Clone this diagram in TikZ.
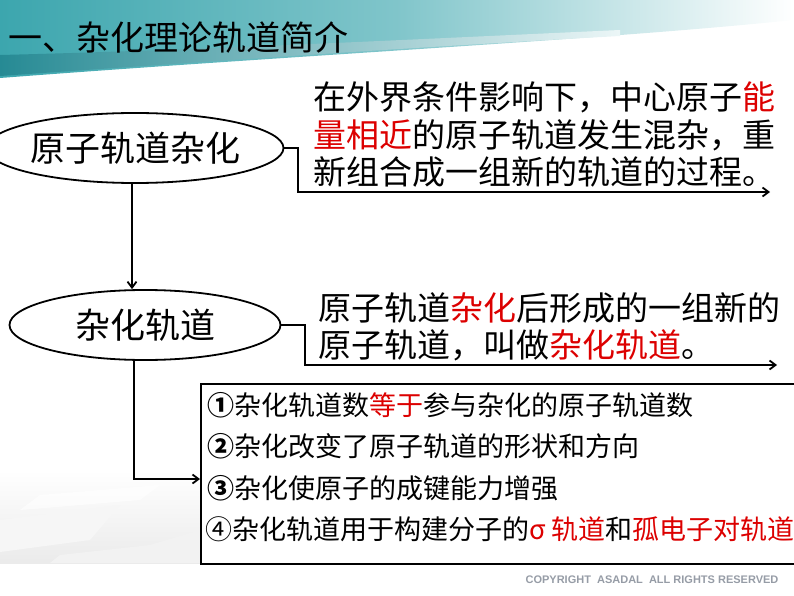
\documentclass[tikz,border=0pt]{standalone}
\usepackage{fontspec}
\setmainfont{Liberation Sans}
\newfontfamily\cjk{Noto Sans CJK SC}
\usetikzlibrary{arrows.meta,shapes.geometric}
\definecolor{hl}{RGB}{220,0,0}
\definecolor{tealA}{RGB}{60,166,174}
\definecolor{tealB}{RGB}{38,138,148}
\definecolor{cpy}{RGB}{150,156,166}
\begin{document}
\begin{tikzpicture}[x=1pt,y=-1pt,
  conn/.style={line width=1.8pt},
  arr/.style={line width=1.8pt,-{Straight Barb[length=6pt,width=9pt]}},
  oval/.style={ellipse,draw,line width=1.8pt,inner sep=0pt,font=\cjk\fontsize{35}{40}\selectfont},
  txt/.style={anchor=west,inner sep=0pt,font=\cjk\fontsize{33}{38}\selectfont},
  row/.style={anchor=west,inner sep=0pt,font=\cjk\fontsize{27}{32}\selectfont}]
\useasboundingbox (0,0) rectangle (794,596);
\begin{scope}
\clip (0,0) rectangle (794,596);
% banner
\shade[left color=tealA,right color=white,middle color=tealA!65]
  (0,0) -- (794,0) -- (794,20) .. controls (600,40) and (300,55) .. (0,78) -- cycle;
\shade[left color=tealB,right color=tealA!10]
  (0,55) .. controls (200,50) and (400,40) .. (620,30)
  -- (620,36) .. controls (400,48) and (200,62) .. (0,76) -- cycle;
% floor
\shade[top color=white,bottom color=gray!16] (0,470) rectangle (200,563);
\fill[gray!7] (0,520) -- (120,505) -- (90,540) -- (0,552) -- cycle;
\fill[white,opacity=0.6] (40,495) -- (160,485) -- (140,500) -- (20,510) -- cycle;
\fill[gray!10] (60,555) -- (150,545) -- (200,530) -- (200,563) -- (50,563) -- cycle;
\end{scope}
% title
\node[anchor=west,inner sep=0pt,font=\cjk\fontsize{34}{40}\selectfont] (title) at (8,38) {一、杂化理论轨道简介};
% ellipses
\node[oval,minimum width=266pt,minimum height=70pt] (e1) at (135,148) {原子轨道杂化};
\node[oval,minimum width=271pt,minimum height=70pt] (e2) at (145,325) {杂化轨道};
% text 1
\node[txt] (t11) at (313,97) {在外界条件影响下，中心原子\textcolor{hl}{能}};
\node[txt] (t12) at (313,135) {\textcolor{hl}{量相近}的原子轨道发生混杂，重};
\node[txt] (t13) at (313,172) {新组合成一组新的轨道的过程。};
% text 2
\node[txt] (t21) at (318,308) {原子轨道\textcolor{hl}{杂化}后形成的一组新的};
\node[txt] (t22) at (318,345) {原子轨道，叫做\textcolor{hl}{杂化轨道}。};
% box
\begin{scope}
\clip (0,0) rectangle (794,596);
\node[draw,line width=2.4pt,anchor=north west,minimum width=600pt,minimum height=180pt,inner sep=0pt] (box) at (200,383) {};
\end{scope}
\node[row] (r1) at (207,405) {{\bfseries ①}杂化轨道数\textcolor{hl}{等于}参与杂化的原子轨道数};
\node[row] (r2) at (207,446) {{\bfseries ②}杂化改变了原子轨道的形状和方向};
\node[row] (r3) at (207,488) {{\bfseries ③}杂化使原子的成键能力增强};
\node[row] (r4) at (205,529) {④杂化轨道用于构建分子的\textcolor{hl}{σ 轨道}和\textcolor{hl}{孤电子对轨道}};
% connectors
\coordinate (c1) at (298,192);
\coordinate (a1) at (770,192);
\draw[arr] (e1.east) -- (e1.east -| c1) -- (c1) -- (a1);
\coordinate (c2) at (305,365);
\coordinate (a2) at (777,365);
\draw[arr] (e2.east) -- (e2.east -| c2) -- (c2) -- (a2);
\coordinate (v1) at (132,148);
\draw[arr] (v1 |- e1.south) -- (v1 |- e2.north);
\coordinate (c3) at (134,479);
\draw[arr] (c3 |- e2.south) -- (c3) -- (c3 -| box.west);
% copyright
\node[inner sep=0pt,text=cpy,font=\bfseries\fontsize{11}{13}\selectfont] (cp) at (652,580) {COPYRIGHT\ \ ASADAL\ \ ALL RIGHTS RESERVED};
\end{tikzpicture}
\end{document}
